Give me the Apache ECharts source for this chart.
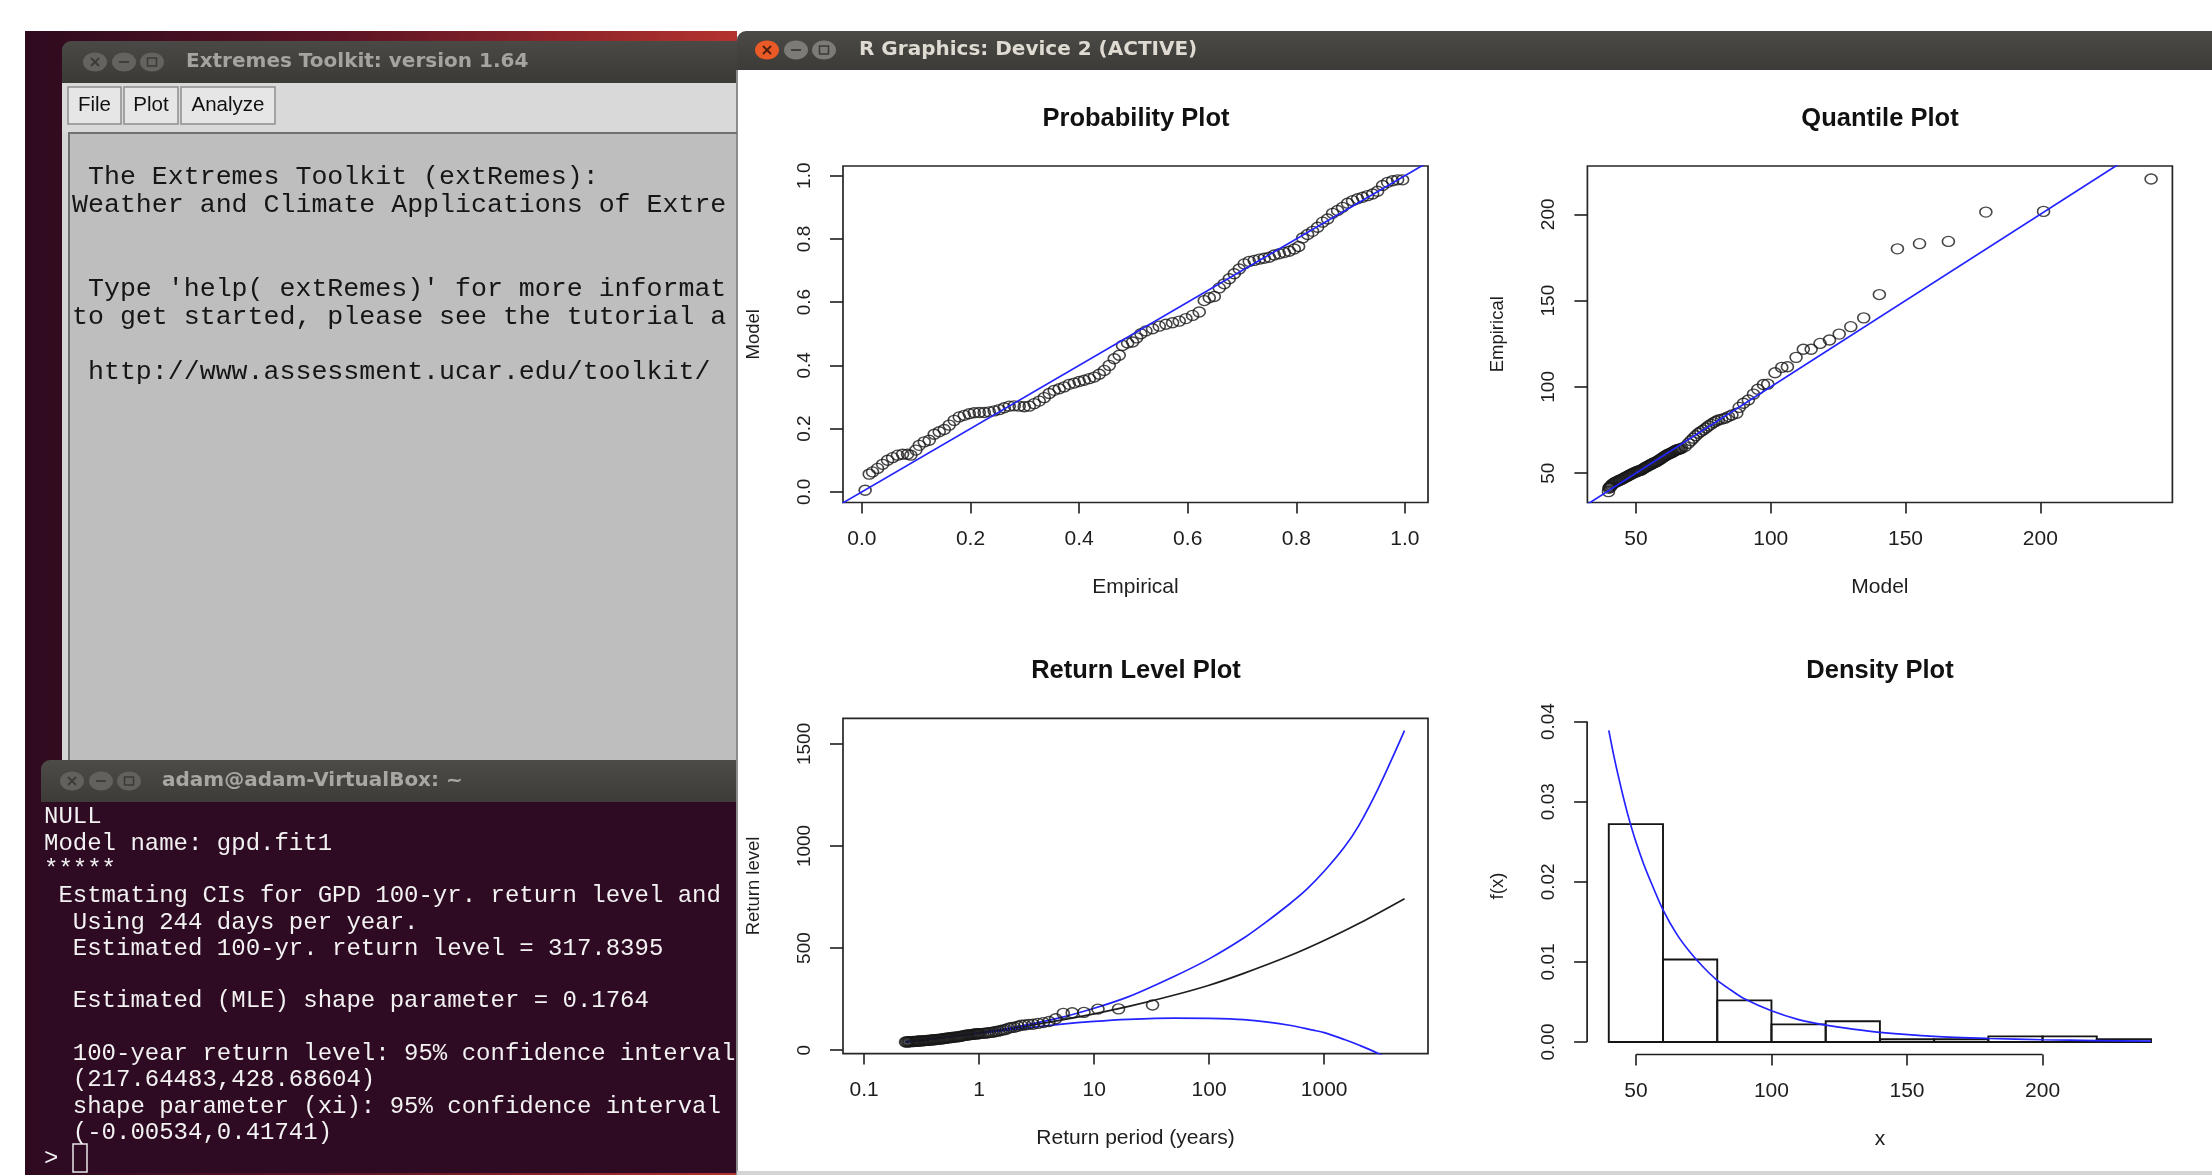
<!DOCTYPE html>
<html><head><meta charset="utf-8">
<script src="https://cdn.jsdelivr.net/npm/echarts@6/dist/echarts.min.js"></script>
<style>html,body{margin:0;padding:0;background:#fff;overflow:hidden}#c{width:2212px;height:1175px}</style>
</head><body><div id="c"></div>
<script>
// ---------------- DATA ----------------
const probPoints = [
[0.006,0.005],[0.0135,0.056],[0.0196,0.063],[0.0289,0.074],[0.0381,0.087],[0.0473,0.100],[0.0565,0.108],[0.0657,0.116],[0.0749,0.119],[0.0841,0.119],[0.0902,0.116],[0.0994,0.132],[0.1056,0.147],[0.1148,0.158],[0.124,0.163],[0.1332,0.182],[0.1424,0.190],[0.1516,0.197],[0.1608,0.211],[0.170,0.226],[0.1793,0.237],[0.1885,0.242],[0.1977,0.247],[0.2069,0.250],[0.2161,0.251],[0.2253,0.251],[0.2345,0.253],[0.2437,0.256],[0.2529,0.260],[0.2621,0.266],[0.2713,0.271],[0.2805,0.272],[0.2897,0.271],[0.299,0.269],[0.3082,0.271],[0.3174,0.279],[0.3266,0.287],[0.3358,0.298],[0.345,0.311],[0.3542,0.321],[0.3634,0.326],[0.3726,0.332],[0.3818,0.340],[0.391,0.344],[0.4002,0.349],[0.4094,0.353],[0.4187,0.358],[0.4279,0.363],[0.4371,0.372],[0.4463,0.384],[0.4555,0.400],[0.4647,0.421],[0.4739,0.432],[0.480,0.463],[0.4893,0.471],[0.4985,0.474],[0.506,0.487],
[0.5138,0.500],[0.523,0.509],[0.5353,0.516],[0.5476,0.524],[0.5599,0.530],[0.5721,0.535],[0.5844,0.540],[0.5967,0.548],[0.609,0.558],[0.6212,0.569],[0.6305,0.605],[0.6397,0.614],[0.6489,0.618],[0.6581,0.645],[0.6673,0.658],[0.6765,0.674],[0.6857,0.690],[0.6949,0.705],[0.7041,0.721],[0.7133,0.729],[0.7225,0.732],[0.7317,0.736],[0.7409,0.739],[0.7502,0.742],[0.7594,0.749],[0.7686,0.753],[0.7778,0.757],[0.787,0.761],[0.7962,0.768],[0.8042,0.776],[0.8116,0.803],[0.8207,0.814],[0.830,0.824],[0.8392,0.837],[0.8484,0.853],[0.8576,0.863],[0.8668,0.881],[0.876,0.890],[0.8852,0.900],[0.8944,0.913],[0.9036,0.921],[0.9128,0.927],[0.922,0.932],[0.9312,0.937],[0.9405,0.942],[0.9497,0.951],[0.9589,0.969],[0.9681,0.979],[0.9773,0.984],[0.9865,0.987],[0.9957,0.987]
];
const probRefLine = [[-0.06,-0.06],[1.07,1.07]];
const probTicks = [0, 0.2, 0.4, 0.6, 0.8, 1.0];

const quantPoints = [
[39.8,39.3],[40.0,41.2],[40.2,41.8],[40.5,42.0],[40.8,42.6],[41.0,43.2],[41.4,43.7],[41.9,44.3],[42.4,44.7],[42.9,45.1],[43.3,45.5],[43.8,45.8],[44.2,46.1],[44.7,46.4],[45.1,46.8],[45.6,47.2],[46.1,47.6],[46.6,48.0],[47.0,48.4],[47.5,48.8],[47.9,49.1],[48.4,49.5],[48.9,49.9],[49.3,50.2],[49.8,50.6],[50.3,50.9],[50.7,51.2],[51.2,51.4],[51.6,51.6],[52.1,51.9],[52.6,52.4],[53.0,52.9],[53.5,53.3],[54.0,53.8],[54.5,54.2],[55.0,54.6],[55.5,55.0],[55.9,55.3],[56.3,55.7],[56.8,56.0],[57.2,56.4],[57.7,56.7],[58.1,57.1],[58.6,57.6],[59.1,58.1],[59.6,58.6],[60.0,59.1],[60.5,59.6],[61.0,60.1],[61.4,60.5],[61.9,60.8],[62.3,61.2],[62.8,61.6],[63.3,61.9],[63.7,62.3],[64.2,62.7],[64.6,63.1],[65.1,63.4],[65.6,63.7],[66.0,63.9],[66.5,64.1],[67.0,64.4],[68.2,65.4],[69.5,67.3],[70.4,68.8],[71.3,70.2],[72.2,71.7],[73.2,73.1],[74.1,74.1],[75.0,75.0],[76.0,76.2],[76.9,77.3],[77.9,78.3],[78.8,79.3],[79.7,80.1],[80.6,80.8],[81.8,81.3],[83.1,81.8],[84.3,82.8],[85.6,83.7],[87.4,84.7],[88.3,88.1],[89.9,90.5],[91.7,92.4],[93.6,95.8],[95.2,98.6],[97.3,101.4],[98.9,101.6],[101.6,108.2],[104.1,111.3],[106.2,111.7],[109.4,117.1],[112.1,121.8],[115.0,121.8],[118.3,125.2],[121.8,127.2],[125.4,130.6],[129.7,134.9],[134.5,140.0],[140.3,153.5],[147.0,180.0],[155.2,183.0],[165.9,184.3],[179.8,201.3],[201.2,201.7],[241.1,220.5]
];
const quantRefLine = [[25,25],[255,255]];
const quantTicks = [50, 100, 150, 200];

const rlPoints = [
[32.2,221],[16.3,202],[10.8,201],[8.15,185],[6.45,183],[5.39,180],[4.63,154],[4.05,140],[3.62,135],[3.25,131],[2.95,127],[2.7,126],[2.5,123],[2.32,122],[2.17,117],[2.03,112],[1.91,111],[1.8,108],[1.71,101],[1.62,99],[1.54,96],[1.47,93],[1.4,91],[1.34,89],[1.28,87],[1.22,86],[1.17,84],[1.12,83],[1.07,82],[1.02,81],[0.99,80.5],[0.97,80],[0.945,79.5],[0.92,79],[0.895,78],[0.87,77],[0.845,76],[0.82,75],[0.795,74],[0.77,73],[0.745,71.5],[0.72,70],[0.70,68.5],[0.68,67],[0.66,66],[0.64,65],[0.62,64],[0.6,63],[0.58,62],[0.56,61],[0.545,60],[0.53,59],[0.515,58],[0.5,57],[0.485,56],[0.47,55],[0.455,54],[0.44,53],[0.425,52],[0.41,51],[0.40,50.5],[0.39,50],[0.38,49.2],[0.37,48.5],[0.36,48],[0.35,47.5],[0.34,46.8],[0.33,46],[0.32,45.5],[0.31,45],[0.30,44.5],[0.295,44],[0.288,43.5],[0.28,43],[0.272,42.5],[0.265,42],[0.258,41.5],[0.25,41],[0.245,40.8],[0.24,40.5],[0.234,40.2],[0.229,40]
];
const rlFit = [[0.229,40],[0.3,47],[0.5,62],[1,84],[2,108],[5,146],[10,178],[20,214],[50,270],[100,318],[200,376],[500,462],[1000,537],[2000,620],[5000,742]];
const rlUpper = [[0.229,40],[0.5,63],[1,86],[2,112],[5,158],[10,205],[20,262],[50,362],[100,447],[200,549],[300,620],[500,716],[700,786],[1000,876],[1500,995],[2000,1100],[3000,1290],[5000,1565]];
const rlLower = [[0.229,40],[0.5,61],[1,82],[2,101],[5,126],[10,141],[20,151],[50,157],[100,156],[200,149],[500,122],[800,98],[1000,86],[1500,52],[2000,25],[3000,-18],[5000,-85]];
const rlXTicks = [0.1, 1, 10, 100, 1000];
const rlYTicks = [0, 500, 1000, 1500];

const histBins = [[40,60,0.0272],[60,80,0.0103],[80,100,0.0052],[100,120,0.0022],[120,140,0.0026],[140,160,0.00035],[160,180,0.00035],[180,200,0.0007],[200,220,0.0007],[220,240,0.00035]];
const densCurve = [[40,0.0389],[42,0.0355],[44,0.0325],[46,0.0297],[48,0.0272],[50,0.0250],[53,0.0221],[56,0.0196],[60,0.0165],[65,0.0135],[70,0.0112],[75,0.0093],[80,0.0077],[85,0.0065],[90,0.0054],[100,0.0039],[110,0.0028],[120,0.0021],[130,0.0016],[140,0.0012],[160,0.0007],[180,0.00044],[200,0.00028],[220,0.00018],[240,0.00012]];
const densXTicks = [50, 100, 150, 200];
const densYTicks = [0, 0.01, 0.02, 0.03, 0.04];

const plotTitles = ['Probability Plot', 'Quantile Plot', 'Return Level Plot', 'Density Plot'];

const toolkitTitle = 'Extremes Toolkit: version 1.64';
const toolkitMenu = ['File', 'Plot', 'Analyze'];
const toolkitLines = [
  ' The Extremes Toolkit (extRemes):',
  'Weather and Climate Applications of Extre',
  '',
  '',
  " Type 'help( extRemes)' for more informat",
  'to get started, please see the tutorial a',
  '',
  ' http://www.assessment.ucar.edu/toolkit/'
];
const terminalTitle = 'adam@adam-VirtualBox: ~';
const terminalLines = [
  'NULL',
  'Model name: gpd.fit1',
  '*****',
  ' Estmating CIs for GPD 100-yr. return level and',
  '  Using 244 days per year.',
  '  Estimated 100-yr. return level = 317.8395',
  '',
  '  Estimated (MLE) shape parameter = 0.1764',
  '',
  '  100-year return level: 95% confidence interval',
  '  (217.64483,428.68604)',
  '  shape parameter (xi): 95% confidence interval',
  '  (-0.00534,0.41741)',
  '> '
];
const rTitle = 'R Graphics: Device 2 (ACTIVE)';

// ---------------- LAYOUT / STYLE ----------------
const FR = '"Liberation Sans", Arial, sans-serif';
const INK = '#1e1e1e';
const BLUE = '#2323ff';
const grids = [
  {left: 843, top: 166, width: 585, height: 336.5},
  {left: 1587.4, top: 166, width: 585, height: 336.5},
  {left: 843, top: 718.4, width: 585, height: 335.2},
  {left: 1587.1, top: 717.6, width: 585.6, height: 336.9}
];
const fmt1 = v => Number(v).toFixed(1);
const fmt2 = v => Number(v).toFixed(2);
const fmt0 = v => String(Math.round(Number(v)));
const fmtLog = v => { v = Number(v); return v < 1 ? String(Math.round(v * 10) / 10) : String(Math.round(v)); };

function mkX(gi, min, max, ticks, fmt, name, type) {
  const a = {
    type: type || 'value', gridIndex: gi, min: min, max: max,
    axisLine: {show: false, onZero: false},
    axisTick: {show: true, length: 11, customValues: ticks, lineStyle: {color: INK, width: 1.6}},
    axisLabel: {show: true, customValues: ticks, formatter: fmt, margin: 26, fontSize: 21, color: INK, fontFamily: FR},
    splitLine: {show: false}, minorTick: {show: false}, minorSplitLine: {show: false},
    name: name, nameLocation: 'middle', nameGap: 74,
    nameTextStyle: {fontSize: 21, color: INK, fontFamily: FR}
  };
  if (type === 'log') a.logBase = 10;
  return a;
}
function mkY(gi, min, max, ticks, fmt, name) {
  return {
    type: 'value', gridIndex: gi, min: min, max: max,
    axisLine: {show: false, onZero: false},
    axisTick: {show: true, length: 13, customValues: ticks, lineStyle: {color: INK, width: 1.6}},
    axisLabel: {show: true, customValues: ticks, formatter: fmt, rotate: 90, margin: 29, fontSize: 19, color: INK, fontFamily: FR},
    splitLine: {show: false},
    name: name, nameLocation: 'middle', nameGap: 80, nameRotate: 90,
    nameTextStyle: {fontSize: 18.5, color: INK, fontFamily: FR}
  };
}
const circleStyle = {color: 'rgba(0,0,0,0)', borderColor: '#181818', borderWidth: 1.5};
function scatter(i, data, z) {
  return {type: 'scatter', xAxisIndex: i, yAxisIndex: i, data: data, symbol: 'circle', symbolSize: [12, 10],
    itemStyle: circleStyle, silent: true, z: z || 3};
}
function line(i, data, color, smooth, clip) {
  return {type: 'line', xAxisIndex: i, yAxisIndex: i, data: data, showSymbol: false, symbol: 'none',
    smooth: smooth || false, clip: clip === undefined ? true : clip,
    lineStyle: {color: color, width: 1.7}, silent: true, z: 4};
}

// ---------------- GRAPHIC (desktop + windows) ----------------
const els = [];
function rect(x, y, w, h, fill, o) {
  o = o || {};
  els.push({type: 'rect', shape: {x: x, y: y, width: w, height: h, r: o.r || 0},
    style: {fill: fill, stroke: o.stroke || null, lineWidth: o.lw || 0}, z: o.z || 1, silent: true});
}
function txt(x, y, text, font, fill, align) {
  els.push({type: 'text', x: x, y: y, z: 5, silent: true,
    style: {text: text, font: font, fill: fill, textAlign: align || 'left', align: align || 'left',
      textVerticalAlign: 'middle', verticalAlign: 'middle'}});
}
function ell(cx, cy, rx, ry, fill) {
  els.push({type: 'ellipse', shape: {cx: cx, cy: cy, rx: rx, ry: ry}, style: {fill: fill}, z: 3, silent: true});
}
function seg(x1, y1, x2, y2, stroke, lw) {
  els.push({type: 'line', shape: {x1: x1, y1: y1, x2: x2, y2: y2}, style: {stroke: stroke, lineWidth: lw}, z: 4, silent: true});
}
function buttons(xs, cy, fills, glyph) {
  xs.forEach((cx, k) => {
    ell(cx, cy, 12, 9.5, fills[k]);
    if (k === 0) { seg(cx - 4, cy - 4, cx + 4, cy + 4, glyph[k], 1.8); seg(cx - 4, cy + 4, cx + 4, cy - 4, glyph[k], 1.8); }
    else if (k === 1) { seg(cx - 5, cy, cx + 5, cy, glyph[k], 1.8); }
    else { els.push({type: 'rect', shape: {x: cx - 4.5, y: cy - 4, width: 9, height: 8}, style: {fill: null, stroke: glyph[k], lineWidth: 1.5}, z: 4, silent: true}); }
  });
}
// desktop background
rect(25, 31, 712, 1144, new echarts.graphic.LinearGradient(0, 0, 1, 0, [
  {offset: 0, color: '#2e0a1f'}, {offset: 0.45, color: '#5c1424'}, {offset: 1, color: '#b4322e'}]), {z: 0});
// toolkit window
rect(62, 41, 675, 42, new echarts.graphic.LinearGradient(0, 0, 0, 1, [{offset: 0, color: '#4a4945'}, {offset: 1, color: '#3b3a36'}]), {r: [9, 0, 0, 0]});
buttons([95, 124, 152], 62, ['#64635f', '#64635f', '#64635f'], ['#3b3a36', '#3b3a36', '#3b3a36']);
txt(186, 62, toolkitTitle, 'bold 20px "DejaVu Sans"', '#a6a49e');
rect(62, 83, 675, 50, '#d9d9d9');
const menuBoxes = [[68, 53], [124, 54], [181, 94]];
toolkitMenu.forEach((m, k) => {
  const b = menuBoxes[k];
  rect(b[0], 87, b[1], 37, '#e6e6e6', {stroke: '#8e8e8e', lw: 1.5, z: 2});
  txt(b[0] + b[1] / 2, 105.5, m, '20.5px ' + FR, '#111', 'center');
});
rect(62, 133, 7, 627, '#d4d4d4');
rect(69, 133, 668, 627, '#bebebe');
seg(68, 133, 737, 133, '#707070', 2);
seg(69, 133, 69, 760, '#707070', 2);
toolkitLines.forEach((s, k) => { if (s) txt(72, 177 + k * 27.9, s, '26.6px "Liberation Mono"', '#161616'); });
// terminal window
rect(41, 760, 696, 42, new echarts.graphic.LinearGradient(0, 0, 0, 1, [{offset: 0, color: '#4c4b47'}, {offset: 1, color: '#3d3c38'}]), {r: [9, 0, 0, 0]});
buttons([72, 101, 129], 781, ['#62615d', '#62615d', '#62615d'], ['#3b3a36', '#3b3a36', '#3b3a36']);
txt(162, 781, terminalTitle, 'bold 20px "DejaVu Sans"', '#a9a7a1');
rect(41, 802, 696, 371, '#2f0a23');
terminalLines.forEach((s, k) => { if (s) txt(44, 817 + k * 26.3, s, '24px "Liberation Mono"', '#f2f2f2'); });
els.push({type: 'rect', shape: {x: 73, y: 1144, width: 14, height: 28}, style: {fill: null, stroke: '#e8e8e8', lineWidth: 1.5}, z: 4, silent: true});
// R graphics window
rect(737, 31, 1475, 39, new echarts.graphic.LinearGradient(0, 0, 0, 1, [{offset: 0, color: '#4b4a46'}, {offset: 1, color: '#3c3b37'}]), {r: [9, 0, 0, 0]});
buttons([767, 796, 824], 50, ['#ea5a26', '#7c7b77', '#7c7b77'], ['#4a1d0c', '#3c3b37', '#3c3b37']);
txt(859, 50, rTitle, 'bold 20px "DejaVu Sans"', '#dfdbd2');
rect(736, 70, 2, 1105, '#8c8c8c');
rect(737, 1171, 1475, 4, '#d4d4d4');
// plot titles
const titlePos = [[1136, 119], [1880, 119], [1136, 671], [1880, 671]];
plotTitles.forEach((t, k) => txt(titlePos[k][0], titlePos[k][1], t, 'bold 25.5px ' + FR, '#111', 'center'));

// ---------------- OPTION ----------------
const option = {
  backgroundColor: '#ffffff',
  animation: false,
  grid: grids.map((g, i) => Object.assign({}, g, {
    show: i < 3, borderColor: '#262626', borderWidth: 1.7, backgroundColor: 'rgba(0,0,0,0)',
    containLabel: false, outerBoundsMode: 'none'
  })),
  xAxis: [
    mkX(0, -0.0348, 1.0425, probTicks, fmt1, 'Empirical'),
    mkX(1, 32, 249, quantTicks, fmt0, 'Model'),
    mkX(2, 0.0655, 8000, rlXTicks, fmtLog, 'Return period (years)', 'log'),
    mkX(3, 32, 248, densXTicks, fmt0, 'x')
  ],
  yAxis: [
    mkY(0, -0.0338, 1.0307, probTicks, fmt1, 'Model'),
    mkY(1, 33, 228, quantTicks, fmt0, 'Empirical'),
    mkY(2, -17, 1625, rlYTicks, fmt0, 'Return level'),
    mkY(3, -0.00156, 0.0405, densYTicks, fmt2, 'f(x)')
  ],
  series: [
    scatter(0, probPoints),
    line(0, probRefLine, BLUE),
    scatter(1, quantPoints),
    line(1, quantRefLine, BLUE),
    line(2, rlFit, '#1e1e1e', 0.3),
    line(2, rlUpper, BLUE, 0.3),
    line(2, rlLower, BLUE, 0.3),
    scatter(2, rlPoints, 6),
    {
      type: 'custom', xAxisIndex: 3, yAxisIndex: 3, data: histBins, silent: true, z: 3,
      encode: {x: [0, 1], y: 2},
      renderItem: function (params, api) {
        const p0 = api.coord([api.value(0), 0]);
        const p1 = api.coord([api.value(1), api.value(2)]);
        return {type: 'rect', shape: {x: p0[0], y: p1[1], width: p1[0] - p0[0], height: p0[1] - p1[1]},
          style: {fill: 'none', stroke: '#151515', lineWidth: 1.9}};
      }
    },
    line(3, densCurve, BLUE, 0.3),
    line(3, [[32, 0], [32, 0.04]], INK, false, false),
    line(3, [[50, -0.00156], [200, -0.00156]], INK, false, false)
  ],
  graphic: {elements: els}
};
const chart = echarts.init(document.getElementById('c'), null, {renderer: 'canvas', width: 2212, height: 1175});
chart.setOption(option);
</script>
</body></html>
